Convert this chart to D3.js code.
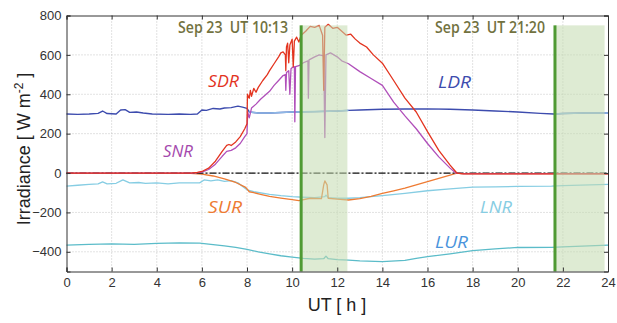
<!DOCTYPE html>
<html><head><meta charset="utf-8">
<script src="https://cdn.jsdelivr.net/npm/d3@7"></script>
<style>body{margin:0;background:#fff}svg{display:block;font-family:"Liberation Sans",Arial,sans-serif}</style>
</head><body><svg id="c" width="617" height="323"></svg>
<script>
// ---- data ----
const xTicks = [0,2,4,6,8,10,12,14,16,18,20,22,24];
const yTicks = [-400,-200,0,200,400,600,800];
const sdrT = [0,5.5,5.8,6,6.3,6.6,6.9,7.1,7.2,7.3,7.5,7.7,7.9,8.0,8.02,8.1,8.15,8.2,8.3,8.4,8.5,8.7,8.9,9.0,9.2,9.4,9.5,9.6,9.7,9.72,9.75,9.8,9.85,9.9,10.0,10.05,10.1,10.2,10.3,10.4,10.6,10.8,11.0,11.2,11.35,11.4,11.45,11.6,11.8,12.0,12.2,12.4,12.6,12.8,13,13.3,13.6,14,14.5,15,15.5,16,16.5,17,17.3,17.6,24];
const sdrV = [0,0,3,8,25,60,110,140,145,140,158,185,225,250,400,380,420,390,430,410,435,470,500,520,555,590,610,615,600,520,640,660,560,650,680,540,670,690,665,700,720,745,740,750,700,420,740,755,735,740,720,700,705,680,660,640,600,558,470,380,310,210,115,40,0,-4,-4];
const snrT = [0,5.6,6,6.3,6.6,6.9,7.1,7.3,7.5,7.7,7.9,8.0,8.03,8.1,8.2,8.4,8.6,8.8,9.0,9.2,9.4,9.6,9.7,9.72,9.75,9.85,9.9,9.95,10.0,10.1,10.12,10.15,10.3,10.5,10.7,10.72,10.75,11.0,11.2,11.4,11.45,11.5,11.7,12.0,12.2,12.5,13,13.5,14,14.5,15,15.5,16,16.5,17,17.25,17.6,24];
const snrV = [0,0,5,18,45,85,110,115,128,150,185,200,310,280,330,350,375,395,415,445,470,495,500,420,510,520,400,530,535,540,260,540,545,560,570,380,575,590,600,595,180,600,610,590,570,555,515,480,445,360,290,225,150,82,25,0,-3,-3];
const surT = [0,5.5,6,6.5,7,7.5,7.9,8.0,8.1,8.3,8.6,9,9.5,10,10.3,10.8,11.3,11.4,11.45,11.55,11.6,12,12.5,13,13.5,14,14.5,15,15.5,16,16.5,17,17.3,17.5,24];
const surV = [-2,-2,-5,-15,-30,-48,-70,-80,-95,-100,-108,-118,-127,-135,-140,-128,-130,-60,-40,-60,-128,-132,-137,-130,-118,-103,-90,-77,-60,-44,-27,-10,0,-3,-3];
const lnrT = [0,0.5,1,1.4,1.6,1.8,2.2,2.5,2.8,3.2,3.5,4,4.5,5,5.5,5.9,6.1,6.4,6.7,7,7.3,7.6,8,8.3,9,9.5,10,10.5,11,11.45,11.5,11.6,12,12.5,13,14,15,16,17,18,19,20,21.5,22,24];
const lnrV = [-66,-62,-58,-55,-45,-55,-52,-35,-50,-48,-52,-50,-55,-50,-50,-50,-35,-40,-35,-42,-38,-50,-85,-95,-108,-115,-120,-123,-125,-120,-112,-125,-128,-128,-125,-115,-103,-90,-80,-72,-70,-68,-66,-64,-58];
const lurT = [0,1,2,3,4,5,5.9,6.5,7,7.5,8,8.5,9,9.5,10,10.5,11,11.4,11.5,11.6,12,12.5,13,14,15,15.5,16,17,18,19,20,21.5,22,24];
const lurV = [-366,-362,-360,-362,-357,-355,-356,-363,-370,-378,-388,-400,-410,-420,-427,-433,-437,-435,-422,-435,-440,-442,-446,-450,-443,-433,-425,-410,-394,-385,-378,-377,-375,-366];
const ldrT = [0,0.5,1,1.4,1.6,1.8,2.2,2.4,2.6,2.8,3.1,3.4,3.8,4.5,5,5.5,5.8,6.0,6.2,6.5,6.8,7.0,7.3,7.6,7.8,8.0,8.1,8.5,9,10,11,12,12.5,13,14,15,16,17,18,19,20,21,21.6,22,23,24];
const ldrV = [300,298,300,303,315,302,300,320,322,308,310,305,300,298,300,298,300,320,318,328,325,330,332,340,335,328,310,305,305,310,312,315,318,320,324,325,326,324,320,315,310,303,300,302,305,305];
const ldrLight = [[8.1,12.5],[21.6,24]];
const events = [10.4, 21.65];
const eventLabels = ["Sep 23  UT 10:13", "Sep 23  UT 21:20"];
const shades = [[10.4,12.45],[21.65,23.85]];

// ---- layout ----
const svg = d3.select("#c");
const L=66.5, R=608, T=15.5, B=271.5;
const x = d3.scaleLinear().domain([0,24]).range([L,R]);
const y = d3.scaleLinear().domain([-500,800]).range([B,T]);

// grid
const g = svg.append("g");
g.selectAll(".gx").data(xTicks.slice(1,-1)).join("line")
  .attr("x1",d=>x(d)).attr("x2",d=>x(d)).attr("y1",T).attr("y2",B)
  .attr("stroke","#b8b8b8").attr("stroke-width",0.8).attr("stroke-dasharray","1,2");
g.selectAll(".gy").data(yTicks.slice(0,-1)).join("line")
  .attr("y1",d=>y(d)).attr("y2",d=>y(d)).attr("x1",L).attr("x2",R)
  .attr("stroke","#b8b8b8").attr("stroke-width",0.8).attr("stroke-dasharray","1,2");

const line = d3.line().x(d=>x(d[0])).y(d=>y(d[1]));
const zip = (t,v)=>t.map((d,i)=>[d,v[i]]);

function draw(t,v,color,w){
  svg.append("path").datum(zip(t,v)).attr("d",line).attr("fill","none")
    .attr("stroke",color).attr("stroke-width",w||1.3).attr("stroke-linejoin","round");
}
draw(lurT,lurV,"#5bbcc9");
draw(lnrT,lnrV,"#86cde3");
const defs = svg.append("defs");
ldrLight.forEach((r,i)=>{
  defs.append("clipPath").attr("id","cl"+i).append("rect")
    .attr("x",x(r[0])).attr("width",x(r[1])-x(r[0])).attr("y",0).attr("height",323);
});
draw(ldrT,ldrV,"#3d4cae",1.4);
ldrLight.forEach((r,i)=>{
  svg.append("path").datum(zip(ldrT,ldrV)).attr("d",line).attr("fill","none")
    .attr("stroke","#8db8e6").attr("stroke-width",1.6).attr("clip-path","url(#cl"+i+")");
});
draw(surT,surV,"#ee7b33");
svg.append("line").attr("x1",L).attr("x2",R).attr("y1",y(0)).attr("y2",y(0))
  .attr("stroke","#111").attr("stroke-width",1.2).attr("stroke-dasharray","7,2,2,2");
draw(snrT,snrV,"#b04fba");
draw(sdrT,sdrV,"#e3341f");

// shading
svg.selectAll(".sh").data(shades).join("rect")
  .attr("x",d=>x(d[0])).attr("width",d=>x(d[1])-x(d[0]))
  .attr("y",y(750)).attr("height",B-y(750))
  .attr("fill","rgb(195,219,175)").attr("opacity",0.55);
svg.selectAll(".ev").data(events).join("line")
  .attr("x1",d=>x(d)).attr("x2",d=>x(d)).attr("y1",y(750)).attr("y2",B)
  .attr("stroke","#4f9a33").attr("stroke-width",3);

// axes (ticks inside)
const fmt = d3.format("d");
const ax = svg.append("g").attr("transform",`translate(0,${B})`)
  .call(d3.axisBottom(x).tickValues(xTicks).tickSize(-4).tickPadding(6).tickFormat(fmt));
const ay = svg.append("g").attr("transform",`translate(${L},0)`)
  .call(d3.axisLeft(y).tickValues(yTicks).tickSize(-4).tickPadding(5).tickFormat(fmt));
const axt = svg.append("g").attr("transform",`translate(0,${T})`)
  .call(d3.axisTop(x).tickValues(xTicks).tickSize(-4).tickFormat(""));
const ayr = svg.append("g").attr("transform",`translate(${R},0)`)
  .call(d3.axisRight(y).tickValues(yTicks).tickSize(-4).tickFormat(""));
[ax,ay,axt,ayr].forEach(a=>{
  a.select(".domain").attr("stroke","#333").attr("stroke-width",1);
  a.selectAll(".tick line").attr("stroke","#333");
  a.selectAll("text").attr("fill","#333").attr("font-size",13)
    .attr("font-family","'Liberation Sans',Arial,sans-serif");
});

// axis titles
svg.append("text").attr("x",337).attr("y",311).attr("text-anchor","middle")
  .attr("font-size",18).attr("fill","#222").text("UT [ h ]");
const yl = svg.append("text").attr("transform","translate(30,149) rotate(-90)")
  .attr("text-anchor","middle").attr("font-size",18).attr("fill","#222");
yl.append("tspan").text("Irradiance [ W m");
yl.append("tspan").attr("dy",-7).attr("font-size",12).text("-2");
yl.append("tspan").attr("dy",7).text(" ]");

// event labels
svg.selectAll(".el").data(events).join("text")
  .attr("x",(d,i)=>[178,435][i]).attr("y",33)
  .style("white-space","pre")
  .attr("font-family","'Open Sans',sans-serif")
  .attr("font-size",16).attr("fill","#72723f").attr("font-weight",600)
  .attr("textLength",110).attr("lengthAdjust","spacingAndGlyphs")
  .text((d,i)=>eventLabels[i]);

// series labels
const labels = [
  {t:"SDR",x:208,y:87,w:31,c:"#e3341f"},
  {t:"SNR",x:163,y:157,w:30,c:"#a549ad"},
  {t:"LDR",x:438,y:88,w:33,c:"#3d4cae"},
  {t:"SUR",x:208,y:213,w:34,c:"#ee7b33"},
  {t:"LNR",x:480,y:213,w:32,c:"#86cde3"},
  {t:"LUR",x:435,y:248,w:33,c:"#4a94dc"}
];
svg.selectAll(".sl").data(labels).join("text")
  .attr("x",d=>d.x).attr("y",d=>d.y).attr("fill",d=>d.c)
  .attr("font-family","'Open Sans',sans-serif")
  .attr("font-size",17).attr("font-style","italic")
  .attr("textLength",d=>d.w).attr("lengthAdjust","spacingAndGlyphs")
  .text(d=>d.t);
</script></body></html>
